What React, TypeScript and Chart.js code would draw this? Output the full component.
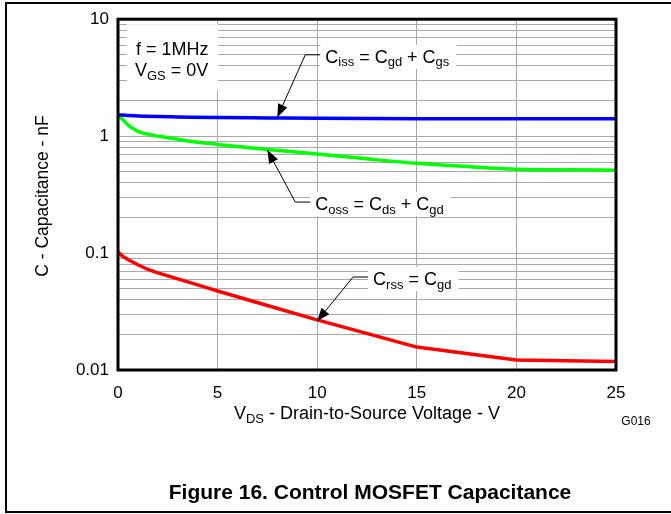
import React, { useEffect, useRef } from 'react';
import { Chart, registerables } from 'chart.js';

Chart.register(...registerables);

// ---- data ----
const xCiss = [0, 0.5, 1, 2, 3, 5, 7.5, 10, 15, 20, 25];
const ciss = [1.52, 1.5, 1.49, 1.47, 1.46, 1.44, 1.43, 1.42, 1.41, 1.41, 1.41];

const xCoss = [0, 0.25, 0.5, 1, 1.5, 2.5, 3.5, 5, 7.5, 10, 12.5, 15, 17.5, 20, 22.5, 25];
const coss = [1.52, 1.38, 1.25, 1.1, 1.04, 0.97, 0.91, 0.85, 0.77, 0.705, 0.64, 0.585, 0.55, 0.522, 0.515, 0.512];

const xCrss = [0, 0.25, 0.5, 1, 1.5, 2, 3, 4, 5, 7.5, 10, 15, 20, 25];
const crss = [0.102, 0.0933, 0.088, 0.0795, 0.0724, 0.0678, 0.0601, 0.0534, 0.0474, 0.0356, 0.0268, 0.0157, 0.0122, 0.0118];

const xTicks = [0, 5, 10, 15, 20, 25];
const yDecades = [0.01, 0.1, 1, 10];
const yTickLabels = ['0.01', '0.1', '1', '10'];
const yMinorSteps = [1, 2, 3, 4, 5, 6, 7, 8, 9];

const FONT = '"Liberation Sans", Arial, Helvetica, sans-serif';

type Part = [string, boolean];

function richWidth(ctx: CanvasRenderingContext2D, parts: Part[], size: number, sub: number) {
  let w = 0;
  for (const [t, s] of parts) {
    ctx.font = `${s ? sub : size}px ${FONT}`;
    w += ctx.measureText(t).width;
  }
  return w;
}

function rich(ctx: CanvasRenderingContext2D, parts: Part[], x: number, y: number, size: number, sub: number) {
  let cx = x;
  ctx.textAlign = 'left';
  ctx.textBaseline = 'alphabetic';
  for (const [t, s] of parts) {
    ctx.font = `${s ? sub : size}px ${FONT}`;
    ctx.fillText(t, cx, s ? y + 3.5 : y);
    cx += ctx.measureText(t).width;
  }
  return cx;
}

function arrowHead(ctx: CanvasRenderingContext2D, fromX: number, fromY: number, tipX: number, tipY: number) {
  const ang = Math.atan2(tipY - fromY, tipX - fromX);
  const len = 13;
  const hw = 5;
  const bx = tipX - Math.cos(ang) * len;
  const by = tipY - Math.sin(ang) * len;
  ctx.beginPath();
  ctx.moveTo(tipX, tipY);
  ctx.lineTo(bx + Math.sin(ang) * hw, by - Math.cos(ang) * hw);
  ctx.lineTo(bx - Math.sin(ang) * hw, by + Math.cos(ang) * hw);
  ctx.closePath();
  ctx.fill();
}

// annotation callouts: arrow tip and elbow in data coordinates
const callouts: { tip: [number, number]; elbow: [number, number]; parts: Part[] }[] = [
  { tip: [8, 1.45], elbow: [9.4, 4.96], parts: [['C', false], ['iss', true], [' = C', false], ['gd', true], [' + C', false], ['gs', true]] },
  { tip: [7.5, 0.76], elbow: [8.9, 0.273], parts: [['C', false], ['oss', true], [' = C', false], ['ds', true], [' + C', false], ['gd', true]] },
  { tip: [10, 0.0262], elbow: [11.8, 0.0624], parts: [['C', false], ['rss', true], [' = C', false], ['gd', true]] },
];

const annPlugin = {
  id: 'annotations',
  afterDatasetsDraw(chart: any) {
    const ctx: CanvasRenderingContext2D = chart.ctx;
    const xs = chart.scales.x;
    const ys = chart.scales.y;
    const area = chart.chartArea;
    ctx.save();
    // condition box
    ctx.fillStyle = '#fff';
    ctx.fillRect(area.left + 9, area.top + 5, 91, 66);
    ctx.fillStyle = '#000';
    rich(ctx, [['f = 1MHz', false]], area.left + 18, area.top + 36, 18, 13);
    rich(ctx, [['V', false], ['GS', true], [' = 0V', false]], area.left + 17, area.top + 57, 18, 13);

    for (const c of callouts) {
      const tx = xs.getPixelForValue(c.tip[0]);
      const ty = ys.getPixelForValue(c.tip[1]);
      const ex = xs.getPixelForValue(c.elbow[0]);
      const ey = ys.getPixelForValue(c.elbow[1]);
      const w = richWidth(ctx, c.parts, 18, 13);
      const base = ey + 8;
      ctx.fillStyle = '#fff';
      ctx.fillRect(ex + 15, base - 18, w + 12, 24);
      ctx.strokeStyle = '#000';
      ctx.lineWidth = 1;
      ctx.beginPath();
      ctx.moveTo(ex + 15, ey);
      ctx.lineTo(ex, ey);
      ctx.lineTo(tx, ty);
      ctx.stroke();
      ctx.fillStyle = '#000';
      arrowHead(ctx, ex, ey, tx, ty);
      rich(ctx, c.parts, ex + 20, base, 18, 13);
    }
    ctx.restore();
  },
  afterDraw(chart: any) {
    const ctx: CanvasRenderingContext2D = chart.ctx;
    const area = chart.chartArea;
    ctx.save();
    // plot border
    ctx.strokeStyle = '#000';
    ctx.lineWidth = 3;
    ctx.strokeRect(area.left, area.top, area.right - area.left, area.bottom - area.top);

    ctx.fillStyle = '#000';
    // x title
    const xParts: Part[] = [['V', false], ['DS', true], [' - Drain-to-Source Voltage - V', false]];
    const xw = richWidth(ctx, xParts, 18, 13);
    const cx = (area.left + area.right) / 2;
    rich(ctx, xParts, cx - xw / 2, 419, 18, 13);

    // y title
    ctx.save();
    ctx.translate(43, 196);
    ctx.rotate(-Math.PI / 2);
    ctx.font = `17.5px ${FONT}`;
    ctx.textAlign = 'center';
    ctx.textBaseline = 'middle';
    ctx.fillText('C - Capacitance - nF', 0, 0);
    ctx.restore();

    // figure id
    ctx.font = `12px ${FONT}`;
    ctx.textAlign = 'center';
    ctx.textBaseline = 'middle';
    ctx.fillText('G016', 636, 422);

    // caption
    ctx.font = `bold 21px ${FONT}`;
    ctx.textAlign = 'center';
    ctx.textBaseline = 'alphabetic';
    ctx.fillText('Figure 16. Control MOSFET Capacitance', 370, 499);

    // outer frame
    ctx.lineWidth = 2;
    ctx.beginPath();
    ctx.moveTo(671, 3);
    ctx.lineTo(6, 3);
    ctx.lineTo(6, 512);
    ctx.lineTo(671, 512);
    ctx.stroke();
    ctx.restore();
  },
};

export default function App() {
  const ref = useRef<HTMLCanvasElement>(null);
  useEffect(() => {
    const yGrid: number[] = [];
    for (let d = 0; d < yDecades.length - 1; d++) {
      for (const m of yMinorSteps) yGrid.push(Number((yDecades[d] * m).toPrecision(3)));
    }
    yGrid.push(yDecades[yDecades.length - 1]);

    const chart = new Chart(ref.current as HTMLCanvasElement, {
      type: 'line',
      data: {
        datasets: [
          {
            label: 'Ciss',
            data: xCiss.map((x, i) => ({ x, y: ciss[i] })),
            borderColor: '#0000ff',
            borderWidth: 3.5,
            pointRadius: 0,
            cubicInterpolationMode: 'monotone',
          },
          {
            label: 'Coss',
            data: xCoss.map((x, i) => ({ x, y: coss[i] })),
            borderColor: '#00ff00',
            borderWidth: 3.5,
            pointRadius: 0,
            cubicInterpolationMode: 'monotone',
          },
          {
            label: 'Crss',
            data: xCrss.map((x, i) => ({ x, y: crss[i] })),
            borderColor: '#ff0000',
            borderWidth: 3.5,
            pointRadius: 0,
            tension: 0,
          },
        ],
      },
      options: {
        animation: false,
        responsive: false,
        devicePixelRatio: 1,
        layout: { padding: { left: 0, right: 55, top: 15, bottom: 104 } },
        plugins: { legend: { display: false }, tooltip: { enabled: false } },
        scales: {
          x: {
            type: 'linear',
            min: 0,
            max: 25,
            afterBuildTicks: (s: any) => {
              s.ticks = xTicks.map((v) => ({ value: v }));
            },
            afterFit: (s: any) => {
              s.height = 40;
            },
            grid: { color: '#a8a8a8', lineWidth: 1, drawTicks: false },
            border: { display: false },
            ticks: {
              padding: 13,
              color: '#000',
              font: { family: FONT, size: 17 },
              maxRotation: 0,
              autoSkip: false,
              callback: (v: any) => String(v),
            },
          },
          y: {
            type: 'logarithmic',
            min: 0.01,
            max: 10,
            afterBuildTicks: (s: any) => {
              s.ticks = yGrid.map((v) => ({ value: v }));
            },
            afterFit: (s: any) => {
              s.width = 118;
            },
            grid: { color: '#a8a8a8', lineWidth: 1, drawTicks: false },
            border: { display: false },
            ticks: {
              padding: 9,
              color: '#000',
              font: { family: FONT, size: 17 },
              autoSkip: false,
              callback: (v: any) => {
                const i = yDecades.indexOf(Number(v));
                return i >= 0 ? yTickLabels[i] : '';
              },
            },
          },
        },
      },
      plugins: [annPlugin],
    } as any);
    return () => chart.destroy();
  }, []);

  return (
    <div style={{ position: 'absolute', left: 0, top: 0, width: 671, height: 514, background: '#fff' }}>
      <canvas ref={ref} width={671} height={514} style={{ display: 'block', width: 671, height: 514 }} />
    </div>
  );
}
